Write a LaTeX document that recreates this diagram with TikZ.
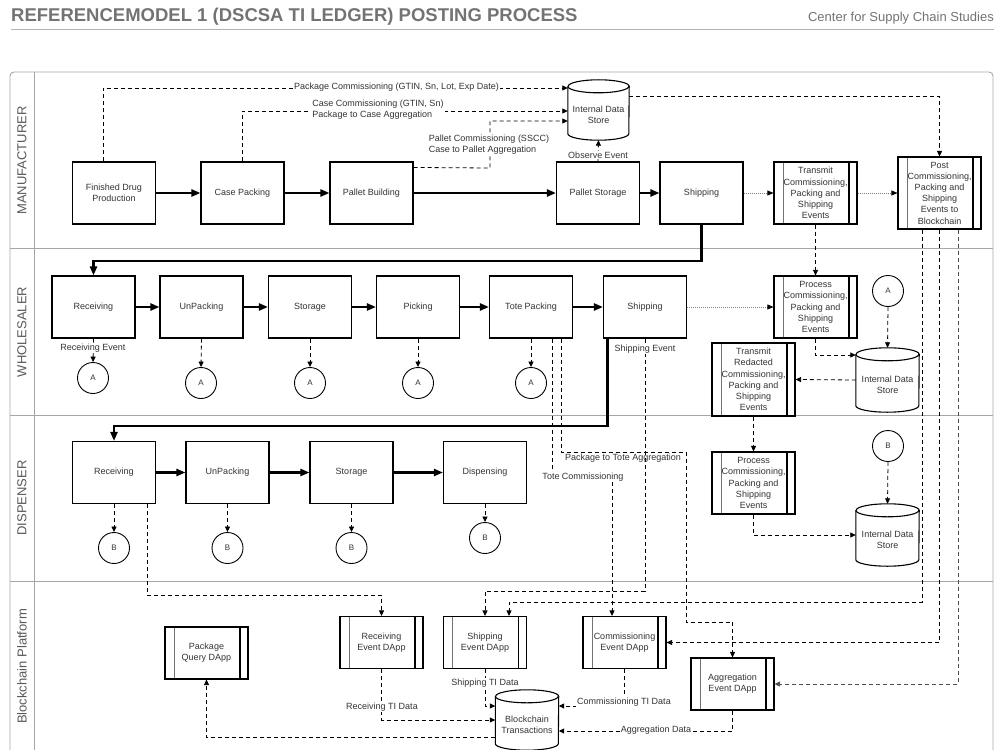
\documentclass[tikz,border=0pt]{standalone}
\usepackage{fontspec}
\setmainfont{Liberation Sans}
\usetikzlibrary{arrows.meta}

% database cylinder drawn around a named node; #2 = half width in pt
\newcommand{\dbshape}[2]{%
  \draw[line width=1.1pt] ([yshift=-6.5pt]#1.north west) -- ([yshift=6.5pt]#1.south west)
    arc[start angle=180, end angle=360, x radius=#2pt, y radius=6.5pt]
    -- ([yshift=-6.5pt]#1.north east)
    arc[start angle=0, end angle=180, x radius=#2pt, y radius=6.5pt];
  \draw[line width=1.1pt] ([yshift=-6.5pt]#1.north west)
    arc[start angle=180, end angle=360, x radius=#2pt, y radius=6.5pt];}

\begin{document}
\begin{tikzpicture}[x=1pt,y=-1pt,
  font=\fontsize{9}{11.2}\selectfont,
  box/.style={draw=black, line width=1.1pt, minimum width=83pt, minimum height=62pt,
    text=black!80, align=center, inner sep=1pt},
  subbox/.style={box, path picture={
    \draw[line width=0.5pt, black!55] ([xshift=9pt]path picture bounding box.north west)
      -- ([xshift=9pt]path picture bounding box.south west);
    \draw[line width=1.1pt] ([xshift=-8pt]path picture bounding box.north east)
      -- ([xshift=-8pt]path picture bounding box.south east);}},
  dapp/.style={subbox, minimum height=52pt},
  dbnode/.style={minimum width=63pt, inner sep=0pt},
  circ/.style={circle, draw=black, line width=0.9pt, minimum size=31pt, inner sep=0pt,
    text=black!80, font=\fontsize{8}{9}\selectfont},
  flow/.style={line width=2.2pt, -{Triangle[length=9pt,width=7pt]}},
  msg/.style={line width=0.8pt, dash pattern=on 4pt off 3pt, -{Triangle[length=5.5pt,width=5pt]}},
  dotmsg/.style={line width=0.6pt, black!50, dash pattern=on 1pt off 1pt,
    -{Triangle[length=6pt,width=5pt,color=black]}},
  lbl/.style={fill=white, inner sep=1pt, text=black!80},
  lane/.style={draw=black!35, line width=0.9pt},
  lanelbl/.style={rotate=90, text=black!65, font=\fontsize{13}{15}\selectfont}
]
\useasboundingbox (0,0) rectangle (1000,749);

% heading
\node[anchor=base west, inner sep=0pt, text=black!55, font=\bfseries\fontsize{18.5}{20}\selectfont]
  (title) at (11,22) {REFERENCEMODEL 1 (DSCSA TI LEDGER) POSTING PROCESS};
\node[anchor=base east, inner sep=0pt, text=black!55, font=\fontsize{13}{15}\selectfont]
  (org) at (994,21.5) {Center for Supply Chain Studies};
\draw[black!30, line width=1pt] (11,30) -- (994,30);

% pool and lanes
\draw[lane, rounded corners=4pt] (10,72) rectangle (993,765);
\draw[lane] (34,72) -- (34,765);
\draw[lane] (10,248) -- (993,248);
\draw[lane] (10,415) -- (993,415);
\draw[lane] (10,581) -- (993,581);
\node[lanelbl] (lnm) at (22,160.5) {MANUFACTURER};
\node[lanelbl] (lnw) at (22,332) {WHOLESALER};
\node[lanelbl] (lnd) at (22,498) {DISPENSER};
\node[lanelbl] (lnb) at (22,666.5) {Blockchain Platform};

% y levels used by connectors
\coordinate (y88) at (0,88);
\coordinate (y111) at (0,111);
\coordinate (y121) at (0,121);
\coordinate (y261) at (0,261);
\coordinate (y355) at (0,355);
\coordinate (y426) at (0,426);
\coordinate (y591) at (0,591);
\coordinate (y595) at (0,595);
\coordinate (y602) at (0,602);
\coordinate (y706) at (0,706);
\coordinate (y731) at (0,731);
\coordinate (y737) at (0,737);

% manufacturer
\node[box] (fdp) at (114,193) {Finished Drug\\Production};
\node[box] (cp) at (242.5,193) {Case Packing};
\node[box] (pb) at (371.5,193) {Pallet Building};
\node[box] (ps) at (598,193) {Pallet Storage};
\node[box] (mship) at (701.5,193) {Shipping};
\node[subbox] (mtrans) at (815.5,193) {Transmit\\Commissioning,\\Packing and\\Shipping\\Events};
\node[subbox, minimum height=72pt] (mpost) at (939.5,193) {Post\\Commissioning,\\Packing and\\Shipping\\Events to\\Blockchain};
\node[dbnode, minimum width=61pt, minimum height=60pt,
  label={[yshift=-5pt, align=center, text=black!80]center:Internal Data\\Store}] (mdb) at (598.5,110) {};
\dbshape{mdb}{30.5}

% wholesaler
\node[box] (wrec) at (93.5,307) {Receiving};
\node[box] (wunp) at (201.5,307) {UnPacking};
\node[box] (wsto) at (310,307) {Storage};
\node[box] (wpick) at (418,307) {Picking};
\node[box] (wtote) at (531,307) {Tote Packing};
\node[box] (wship) at (645,307) {Shipping};
\node[subbox] (wproc) at (815.5,307) {Process\\Commissioning,\\Packing and\\Shipping\\Events};
\node[subbox, minimum height=73pt] (wtrans) at (753.5,379.5) {Transmit\\Redacted\\Commissioning,\\Packing and\\Shipping\\Events};
\node[circ] (wa) at (888,291) {A};
\node[circ] (wa1) at (93,378) {A};
\node[circ] (wa2) at (201,383) {A};
\node[circ] (wa3) at (310,383) {A};
\node[circ] (wa4) at (418,383) {A};
\node[circ] (wa5) at (531,383) {A};
\node[dbnode, minimum height=64pt,
  label={[yshift=-5pt, align=center, text=black!80]center:Internal Data\\Store}] (wdb) at (887.5,380) {};
\dbshape{wdb}{31.5}

% dispenser
\node[box] (drec) at (114,472.5) {Receiving};
\node[box] (dunp) at (227.5,472.5) {UnPacking};
\node[box] (dsto) at (351.5,472.5) {Storage};
\node[box] (ddisp) at (485,472.5) {Dispensing};
\node[subbox] (dproc) at (753.5,483) {Process\\Commissioning,\\Packing and\\Shipping\\Events};
\node[circ] (db) at (888,446) {B};
\node[circ] (db1) at (114,548) {B};
\node[circ] (db2) at (227.5,548) {B};
\node[circ] (db3) at (351.5,548) {B};
\node[circ] (db4) at (485,538) {B};
\node[dbnode, minimum height=62pt,
  label={[yshift=-5pt, align=center, text=black!80]center:Internal Data\\Store}] (ddb) at (887.5,535) {};
\dbshape{ddb}{31.5}

% blockchain platform
\node[dapp] (pq) at (206.5,653) {Package\\Query DApp};
\node[dapp] (rdapp) at (381.5,642.5) {Receiving\\Event DApp};
\node[dapp] (sdapp) at (485,642.5) {Shipping\\Event DApp};
\node[dapp] (cdapp) at (624.5,642.5) {Commissioning\\Event DApp};
\node[dapp] (adapp) at (732.5,684) {Aggregation\\Event DApp};
\node[dbnode, minimum height=60pt,
  label={[yshift=-5pt, align=center, text=black!80]center:Blockchain\\Transactions}] (bct) at (527,720) {};
\dbshape{bct}{31.5}

% manufacturer flow
\draw[flow] (fdp.east) -- (cp.west);
\draw[flow] (cp.east) -- (pb.west);
\draw[flow] (pb.east) -- (ps.west);
\draw[flow] (ps.east) -- (mship.west);
\draw[dotmsg] (mship.east) -- (mtrans.west);
\draw[dotmsg] (mtrans.east) -- (mpost.west);
\draw[flow] (mship.south) -- (mship.south |- y261) -| (wrec.north);

% manufacturer events into the data store
\draw[msg] ([xshift=-11pt]fdp.north) |- (mdb.west |- y88);
\draw[msg] (cp.north) |- (mdb.west |- y111);
\coordinate (pbk) at (490,168);
\draw[msg] ([yshift=-6pt]pb.north east) -- (pbk) |- (mdb.west |- y121);
\draw[msg] (ps.north) -- (mdb.south);
\draw[msg] ([yshift=-17pt]mdb.north east) -| (mpost.north);
\draw[msg] (mtrans.south) -- (wproc.north);

% wholesaler flow
\draw[flow] (wrec.east) -- (wunp.west);
\draw[flow] (wunp.east) -- (wsto.west);
\draw[flow] (wsto.east) -- (wpick.west);
\draw[flow] (wpick.east) -- (wtote.west);
\draw[flow] (wtote.east) -- (wship.west);
\draw[dotmsg] (wship.east) -- (wproc.west);
\coordinate (wsx) at ([xshift=4.5pt]wship.south west);
\draw[flow] (wsx) -- (wsx |- y426) -| (drec.north);

\draw[msg] (wrec.south) -- (wa1.north);
\draw[msg] (wunp.south) -- (wa2.north);
\draw[msg] (wsto.south) -- (wa3.north);
\draw[msg] (wpick.south) -- (wa4.north);
\draw[msg] (wtote.south) -- (wa5.north);

\coordinate (tc1) at (552,477);
\coordinate (tc2) at (612,477);
\draw[msg] ([xshift=21pt]wtote.south) -- (tc1) -- (tc2) -- ([xshift=-12.5pt]cdapp.north);
\coordinate (ta1) at (561,452);
\coordinate (ta2) at (686,452);
\coordinate (ta3) at (686,622);
\draw[msg] ([xshift=30pt]wtote.south) -- (ta1) -- (ta2) -- (ta3) -| (adapp.north);
\draw[msg] (wship.south) -- (wship.south |- y591) -| (sdapp.north);

\draw[msg] (wproc.south) |- (wdb.west |- y355);
\draw[msg] (wa.south) -- (wdb.north);
\draw[msg] (wdb.west) -- (wtrans.east);
\draw[msg] (wtrans.south) -- (dproc.north);

% dispenser flow
\draw[flow] (drec.east) -- (dunp.west);
\draw[flow] (dunp.east) -- (dsto.west);
\draw[flow] (dsto.east) -- (ddisp.west);
\draw[msg] (drec.south) -- (db1.north);
\draw[msg] (dunp.south) -- (db2.north);
\draw[msg] (dsto.south) -- (db3.north);
\draw[msg] (ddisp.south) -- (db4.north);
\coordinate (drx) at ([xshift=-9pt]drec.south east);
\draw[msg] (drx) -- (drx |- y595) -| (rdapp.north);
\draw[msg] (dproc.south) |- (ddb.west);
\draw[msg] (db.south) -- (ddb.north);

% posting to the blockchain
\coordinate (p1) at ([xshift=-17.5pt]mpost.south);
\coordinate (p3) at ([xshift=18.5pt]mpost.south);
\coordinate (s2) at ([xshift=24pt]sdapp.north);
\draw[msg] (p1) -- (p1 |- y602) -| (s2);
\draw[msg] (mpost.south) |- (cdapp.east);
\draw[msg, black!70] (p3) |- (adapp.east);

% blockchain transactions
\draw[msg] (rdapp.south) |- (bct.west);
\draw[msg] (sdapp.south) |- (bct.west |- y706);
\draw[msg] (bct.west |- y737) -| (pq.south);
\draw[msg] (cdapp.south) |- (bct.east |- y706);
\draw[msg] (adapp.south) |- (bct.east |- y731);

% connector labels
\node[lbl] (l1) at (396.5,87) {Package Commissioning (GTIN, Sn, Lot, Exp Date)};
\node[lbl, align=left] (l2) at (378,110) {Case Commissioning (GTIN, Sn)\\Package to Case Aggregation};
\node[lbl, align=left] (l3) at (489,145) {Pallet Commissioning (SSCC)\\Case to Pallet Aggregation};
\node[lbl] (l4) at (598,155) {Observe Event};
\node[lbl] (l5) at (93,348) {Receiving Event};
\node[lbl] (l6) at (645,349) {Shipping Event};
\node[lbl] (l7) at (583,477) {Tote Commissioning};
\node[lbl, fill=none, anchor=north] (l8) at (623,453) {Package to Tote Aggregation};
\node[lbl] (l9) at (382,707) {Receiving TI Data};
\node[lbl] (l10) at (485,683) {Shipping TI Data};
\node[lbl] (l11) at (624,702) {Commissioning TI Data};
\node[lbl] (l12) at (656,730) {Aggregation Data};
\end{tikzpicture}
\end{document}
